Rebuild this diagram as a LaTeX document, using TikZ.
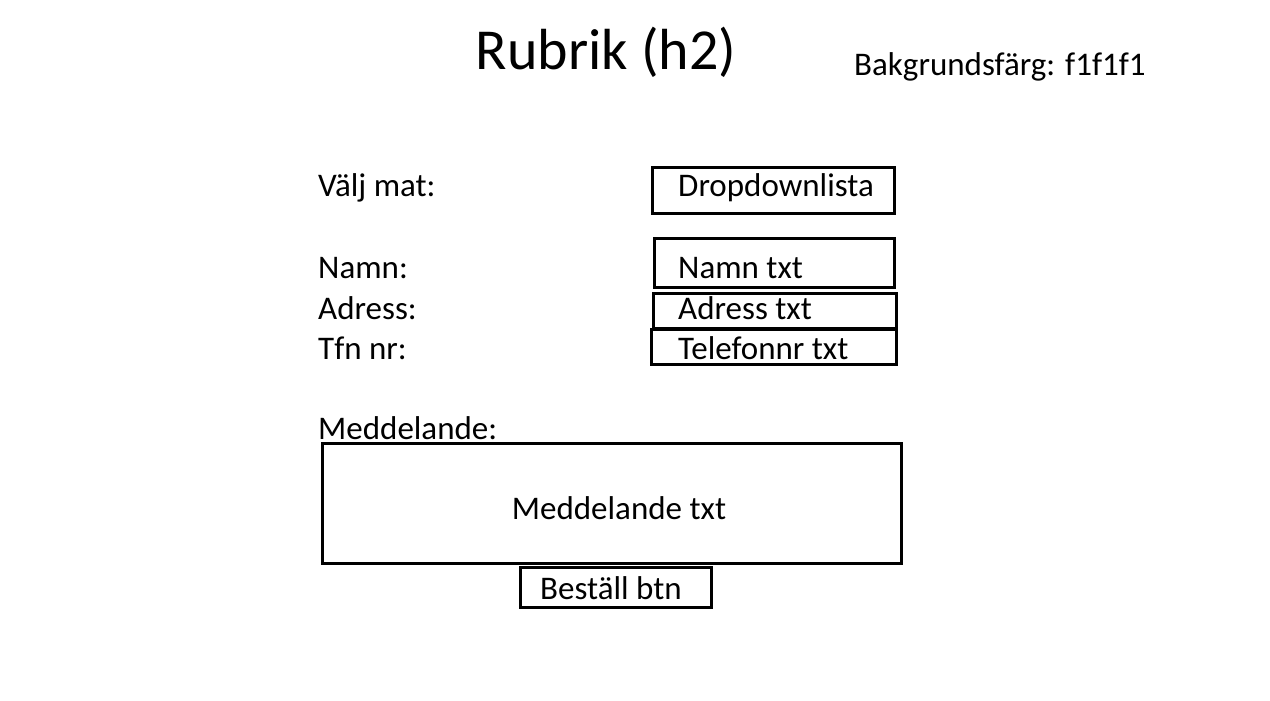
\documentclass[tikz,border=0pt]{standalone}
\usepackage{fontspec}
\setmainfont{Carlito}
\begin{document}
\begin{tikzpicture}[x=1pt,y=-1pt,
  lbl/.style={anchor=west,inner sep=0pt,font=\fontsize{33}{39}\selectfont},
  fld/.style={draw=black,line width=3pt,anchor=north west,inner sep=0pt}]
\useasboundingbox[fill=white] (0,0) rectangle (1270,701);
\node[inner sep=0pt,font=\fontsize{58}{66}\selectfont] (title) at (606,52) {Rubrik (h2)};
\node[lbl,font=\fontsize{33}{39}\selectfont] (bg) at (854,67) {Bakgrundsfärg: f1f1f1};
% labels
\node[lbl] (lmat) at (318,188) {Välj mat:};
\node[lbl] (lnamn) at (318,268) {Namn:};
\node[lbl] (ladr) at (318,308) {Adress:};
\node[lbl] (ltfn) at (318,348) {Tfn nr:};
\node[lbl] (lmed) at (318,428) {Meddelande:};
% fields
\node[fld,minimum width=242pt,minimum height=46pt] (bdrop) at (651,166) {};
\node[lbl] (tdrop) at (678,188) {Dropdownlista};
\node[fld,minimum width=240pt,minimum height=49pt] (bnamn) at (653,237) {};
\node[lbl] (tnamn) at (678,268) {Namn txt};
\node[fld,minimum width=243pt,minimum height=35pt] (badr) at (652,292) {};
\node[lbl] (tadr) at (678,308) {Adress txt};
\node[fld,minimum width=245pt,minimum height=35pt] (btfn) at (650,328) {};
\node[lbl] (ttfn) at (678,348) {Telefonnr txt};
\node[fld,minimum width=579pt,minimum height=120pt] (bmed) at (321,442) {};
\node[inner sep=0pt,font=\fontsize{33}{39}\selectfont] (tmed) at (619,508) {Meddelande txt};
\node[fld,minimum width=191pt,minimum height=40pt] (bbtn) at (519,566) {};
\node[lbl] (tbtn) at (540,588) {Beställ btn};
\end{tikzpicture}
\end{document}
